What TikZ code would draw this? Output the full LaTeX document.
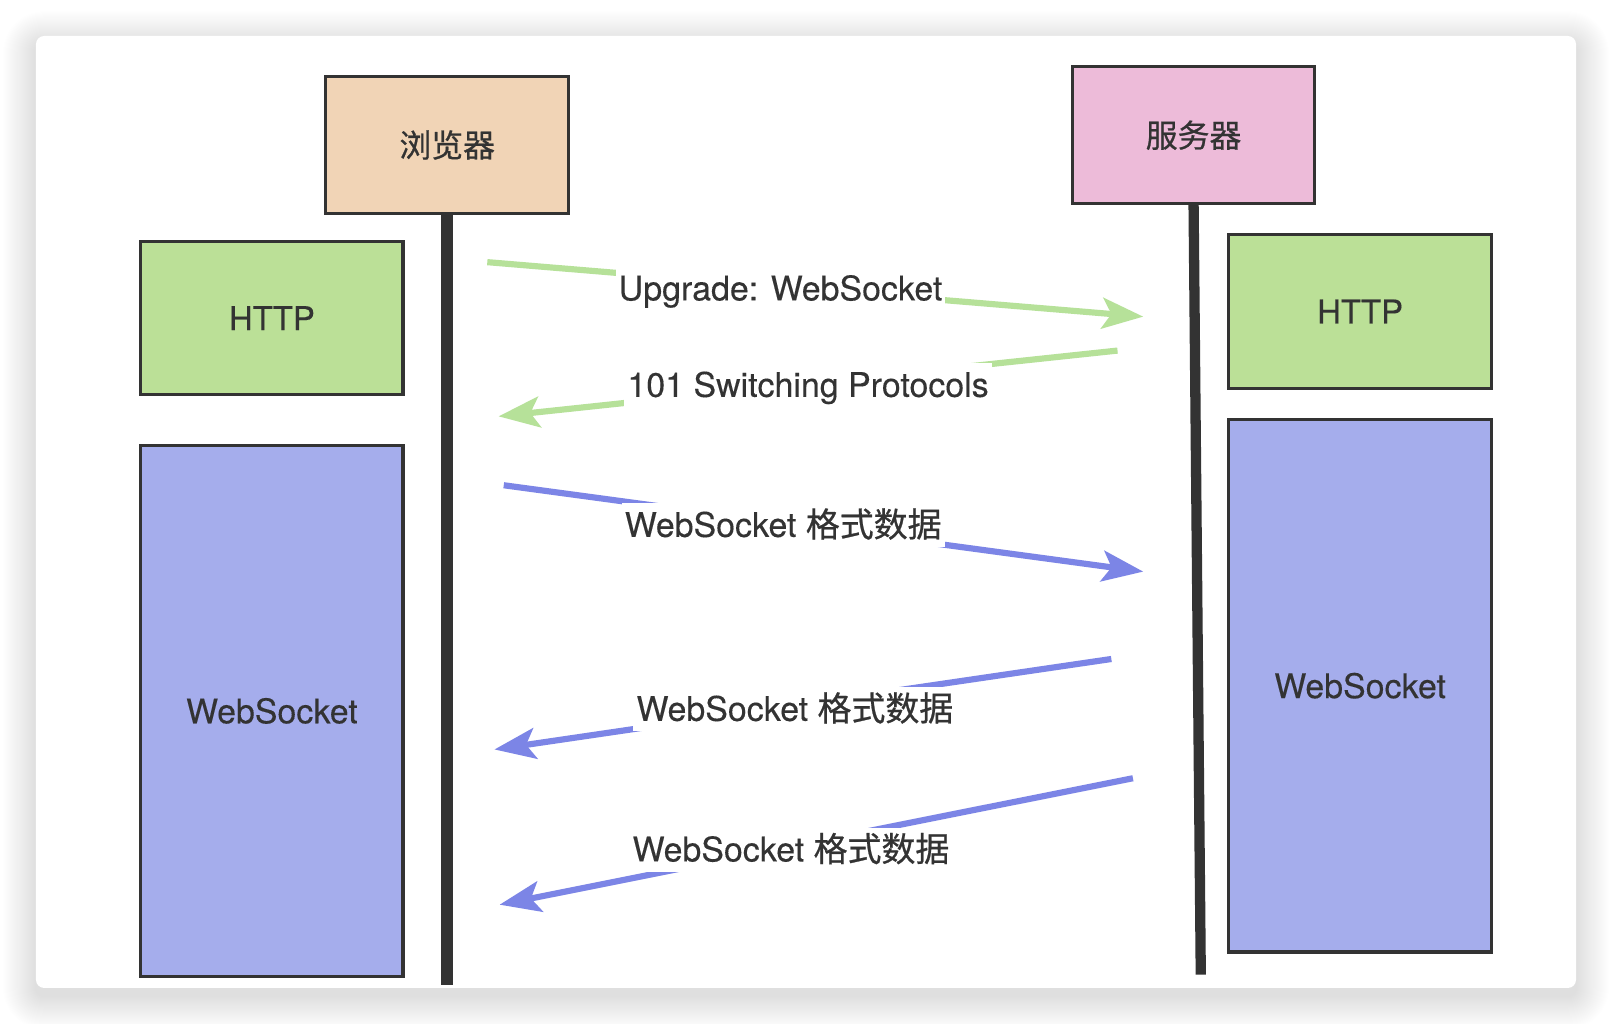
\documentclass[tikz,border=0pt]{standalone}
\usepackage{fontspec}
\setmainfont{TeX Gyre Heros}[FakeBold=0.25]
\newfontfamily\cjk{Noto Sans CJK SC}[FakeBold=0.7]
\usetikzlibrary{arrows.meta}
\definecolor{ink}{HTML}{333333}
\definecolor{peach}{HTML}{F1D4B6}
\definecolor{pinkbox}{HTML}{EDBBD9}
\definecolor{greenbox}{HTML}{BBE097}
\definecolor{bluebox}{HTML}{A5ADEC}
\definecolor{greenarrow}{HTML}{B6E199}
\definecolor{bluearrow}{HTML}{7C85E6}
\begin{document}
\begin{tikzpicture}[x=1pt,y=-1pt,
  box/.style={draw=ink, line width=3pt, inner sep=0pt, text=ink},
  lifeline/.style={draw=ink, line width=12pt},
  msg/.style={line width=6pt, -{Stealth[length=40pt,width=30pt,inset=9pt]}},
  lbl/.style={fill=white, text=ink, inner sep=3pt, text height=30pt, text depth=7pt, font=\fontsize{33}{38}\selectfont},
  boxfont/.style={font=\fontsize{33}{38}\selectfont},
  cjkfont/.style={font=\fontsize{31}{36}\selectfont\cjk}
]
\useasboundingbox (0,0) rectangle (1568,996);
\fill[white] (0,0) rectangle (1568,996);
% shadow
\foreach \i in {1,...,32}{
  \fill[black, opacity=0.0045, rounded corners=8pt+\i pt] (35-\i,35-\i+8) rectangle (1533+\i,961+\i+8);
}
\fill[white, rounded corners=8pt] (35,35) rectangle (1533,961);

% boxes
\node[box, fill=peach, minimum width=236pt, minimum height=134pt, cjkfont] (browser) at (435,141) {浏览器};
\node[box, fill=pinkbox, minimum width=236pt, minimum height=133pt, cjkfont] (server) at (1161,131.5) {服务器};
\node[box, fill=greenbox, minimum width=255pt, minimum height=149pt, font=\fontsize{32}{38}\selectfont] (lhttp) at (264.5,309.5) {HTTP};
\node[box, fill=bluebox, minimum width=255pt, minimum height=517pt, boxfont] (lws) at (264.5,691.5) {WebSocket};
\node[box, fill=greenbox, minimum width=256pt, minimum height=150pt, font=\fontsize{32}{38}\selectfont] (rhttp) at (1323,303) {HTTP};
\node[box, fill=bluebox, minimum width=256pt, minimum height=518pt, boxfont] (rws) at (1323,667) {WebSocket};

% lifelines
\coordinate (bend) at (435,958);
\coordinate (send) at (1168,948);
\draw[lifeline] (browser.south) -- (bend);
\draw[ink, line width=10pt] (server.south) -- (send);

% messages
\coordinate (m1a) at (474,255); \coordinate (m1b) at (1112,308);
\coordinate (m2a) at (1087,341); \coordinate (m2b) at (485,405);
\coordinate (m3a) at (490,472); \coordinate (m3b) at (1112,556);
\coordinate (m4a) at (1081,641); \coordinate (m4b) at (481,729);
\coordinate (m5a) at (1102,757); \coordinate (m5b) at (486,880);

\draw[msg, greenarrow] (m1a) -- node[lbl, pos=0.447, yshift=-2pt] (l1) {Upgrade: WebSocket} (m1b);
\draw[msg, greenarrow] (m2a) -- node[lbl, pos=0.5, yshift=-1.5pt] (l2) {101 Switching Protocols} (m2b);
\draw[msg, bluearrow] (m3a) -- node[lbl, pos=0.437, yshift=-2pt] (l3) {WebSocket {\cjk 格式数据}} (m3b);
\draw[msg, bluearrow] (m4a) -- node[lbl, pos=0.513, yshift=-3.5pt] (l4) {WebSocket {\cjk 格式数据}} (m4b);
\draw[msg, bluearrow] (m5a) -- node[lbl, pos=0.54, yshift=-3pt] (l5) {WebSocket {\cjk 格式数据}} (m5b);
\end{tikzpicture}
\end{document}
